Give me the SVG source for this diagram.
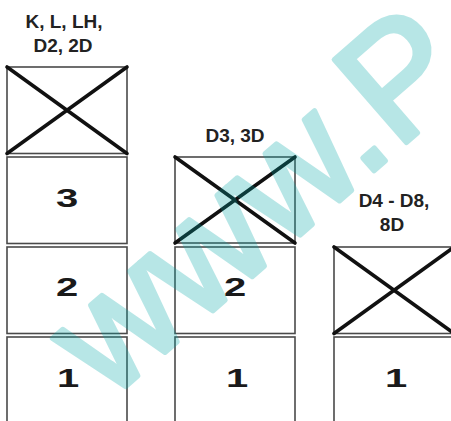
<svg xmlns="http://www.w3.org/2000/svg" width="451" height="421" viewBox="0 0 451 421">
  <style>
    .cell { fill: #ffffff; stroke: #4a4a4a; stroke-width: 1.6; }
    .x { stroke: #111111; stroke-width: 3.6; stroke-linecap: round; }
    .lbl { font-family: "Liberation Sans", Arial, sans-serif; font-weight: bold; font-size: 19px; fill: #222222; text-anchor: middle; }
    .num { font-family: "Liberation Sans", Arial, sans-serif; font-weight: bold; font-size: 25px; fill: #1a1a1a; text-anchor: middle; }
    .wm { font-family: "Liberation Sans", Arial, sans-serif; font-weight: normal; font-size: 160px; fill: #00a8a8; stroke: #00a8a8; stroke-width: 5; stroke-linejoin: round; opacity: 0.28; }
  </style>
  <rect width="451" height="421" fill="#ffffff"/>

  <g id="col1">
    <text class="lbl" x="64" y="28">K, L, LH,</text>
    <text class="lbl" x="63" y="52">D2, 2D</text>
    <g id="c1r4">
      <rect class="cell" x="7" y="67" width="120" height="86.5"/>
      <line class="x" x1="7" y1="67" x2="127" y2="153.5"/>
      <line class="x" x1="7" y1="153.5" x2="127" y2="67"/>
    </g>
    <g id="c1r3">
      <rect class="cell" x="7" y="157" width="120" height="86.5"/>
      <text class="num" transform="translate(67,207) scale(1.6,1)">3</text>
    </g>
    <g id="c1r2">
      <rect class="cell" x="7" y="247" width="120" height="86.5"/>
      <text class="num" transform="translate(67,296) scale(1.6,1)">2</text>
    </g>
    <g id="c1r1">
      <rect class="cell" x="7" y="337" width="120" height="86.5"/>
      <text class="num" transform="translate(68,387) scale(1.6,1)">1</text>
    </g>
  </g>

  <g id="col2">
    <text class="lbl" x="235" y="142">D3, 3D</text>
    <g id="c2r3">
      <rect class="cell" x="175" y="157" width="120" height="86"/>
      <line class="x" x1="175" y1="157" x2="295" y2="243"/>
      <line class="x" x1="175" y1="243" x2="295" y2="157"/>
    </g>
    <g id="c2r2">
      <rect class="cell" x="175" y="247" width="120" height="86.5"/>
      <text class="num" transform="translate(235,296) scale(1.6,1)">2</text>
    </g>
    <g id="c2r1">
      <rect class="cell" x="175" y="337" width="120" height="86.5"/>
      <text class="num" transform="translate(237,387) scale(1.6,1)">1</text>
    </g>
  </g>

  <g id="col3">
    <text class="lbl" x="394" y="207">D4 - D8,</text>
    <text class="lbl" x="392" y="231">8D</text>
    <g id="c3r2">
      <rect class="cell" x="334" y="247" width="120" height="86.5"/>
      <line class="x" x1="334" y1="247" x2="454" y2="333.5"/>
      <line class="x" x1="334" y1="333.5" x2="454" y2="247"/>
    </g>
    <g id="c3r1">
      <rect class="cell" x="334" y="337" width="120" height="86.5"/>
      <text class="num" transform="translate(396,387) scale(1.6,1)">1</text>
    </g>
  </g>

  <g id="connectors"></g>

  <text class="wm" transform="translate(108,402) rotate(-41)">www.P</text>
</svg>
